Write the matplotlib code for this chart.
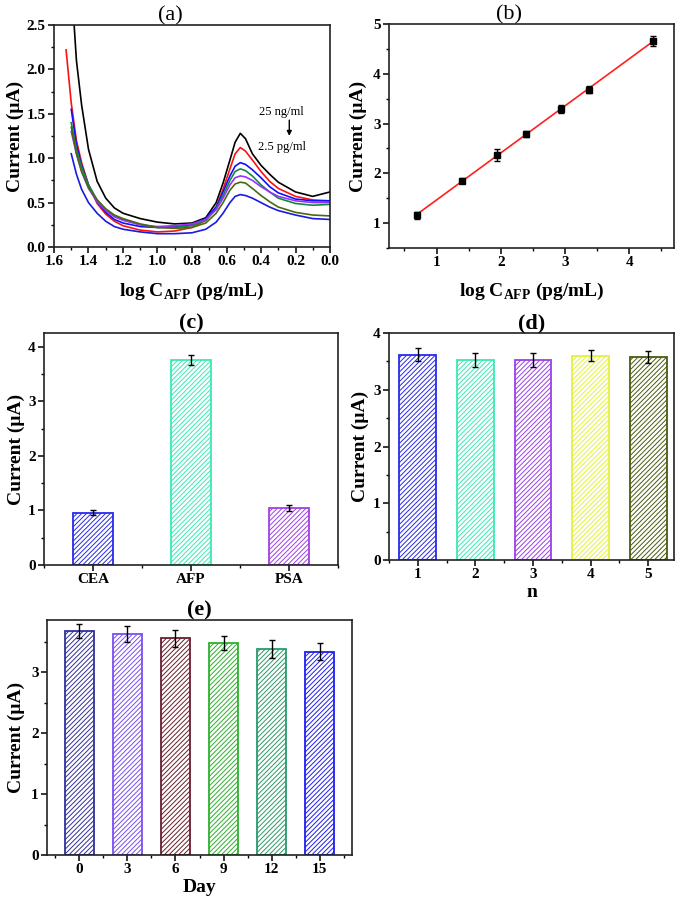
import numpy as np
import matplotlib.pyplot as plt
from matplotlib.ticker import MultipleLocator, FormatStrFormatter

plt.rcParams['font.family'] = ['Liberation Serif', 'DejaVu Serif']
plt.rcParams['font.weight'] = 'bold'
plt.rcParams['axes.labelweight'] = 'bold'
plt.rcParams['mathtext.fontset'] = 'custom'
plt.rcParams['mathtext.rm'] = 'Liberation Serif:bold'
plt.rcParams['mathtext.bf'] = 'Liberation Serif:bold'
plt.rcParams['hatch.linewidth'] = 0.7

# ---- data ----
# (a) DPV curves, x reversed (as drawn in the figure)
x_cv = [1.53, 1.50, 1.47, 1.44, 1.40, 1.35, 1.30, 1.25, 1.20, 1.10, 1.00, 0.90, 0.80, 0.72,
        0.66, 0.62, 0.58, 0.55, 0.52, 0.49, 0.45, 0.40, 0.35, 0.30, 0.20, 0.10, 0.00]
nan = np.nan
cv_black = [nan, 3.00, 2.10, 1.60, 1.10, 0.74, 0.55, 0.44, 0.38, 0.32, 0.28, 0.26, 0.27, 0.33,
            0.50, 0.72, 0.98, 1.18, 1.28, 1.22, 1.05, 0.92, 0.82, 0.73, 0.62, 0.57, 0.62]
cv_red = [2.22, 1.62, 1.20, 0.95, 0.70, 0.49, 0.37, 0.29, 0.24, 0.19, 0.17, 0.18, 0.22, 0.30,
          0.45, 0.65, 0.88, 1.05, 1.12, 1.08, 0.98, 0.85, 0.74, 0.66, 0.57, 0.53, 0.52]
cv_blue = [nan, 1.55, 1.15, 0.92, 0.70, 0.51, 0.39, 0.31, 0.27, 0.23, 0.22, 0.23, 0.25, 0.32,
           0.45, 0.62, 0.80, 0.91, 0.95, 0.93, 0.87, 0.78, 0.68, 0.61, 0.54, 0.52, 0.52]
cv_green = [nan, 1.40, 1.10, 0.90, 0.70, 0.53, 0.42, 0.35, 0.31, 0.25, 0.22, 0.22, 0.24, 0.30,
            0.43, 0.58, 0.75, 0.85, 0.88, 0.86, 0.80, 0.70, 0.62, 0.55, 0.49, 0.47, 0.48]
cv_purple = [nan, 1.30, 1.05, 0.85, 0.66, 0.51, 0.41, 0.34, 0.30, 0.25, 0.23, 0.24, 0.26, 0.31,
             0.42, 0.55, 0.70, 0.78, 0.80, 0.79, 0.75, 0.68, 0.62, 0.57, 0.52, 0.50, 0.50]
cv_olive = [nan, 1.35, 1.05, 0.85, 0.67, 0.53, 0.43, 0.36, 0.32, 0.26, 0.22, 0.21, 0.22, 0.27,
            0.38, 0.50, 0.64, 0.71, 0.73, 0.72, 0.66, 0.58, 0.51, 0.45, 0.39, 0.36, 0.35]
cv_blue2 = [nan, 1.05, 0.82, 0.65, 0.50, 0.38, 0.29, 0.23, 0.20, 0.17, 0.15, 0.15, 0.16, 0.20,
            0.28, 0.38, 0.50, 0.57, 0.59, 0.58, 0.55, 0.50, 0.45, 0.41, 0.36, 0.32, 0.31]
cv_all = [cv_black, cv_red, cv_blue, cv_green, cv_purple, cv_olive, cv_blue2]
cv_colors = ['black', '#ff1010', '#1010ff', '#108a40', '#9b30ff', '#4b6a10', '#1a1ae0']

# (b) calibration
logc = [0.70, 1.39, 1.94, 2.39, 2.94, 3.38, 4.37]
cur_b = [1.16, 1.85, 2.37, 2.79, 3.29, 3.68, 4.66]
err_b = [0.07, 0.05, 0.12, 0.06, 0.08, 0.07, 0.10]

# (c) selectivity
sel_labels = ['CEA', 'AFP', 'PSA']
sel_vals = [0.96, 3.75, 1.04]
sel_err = [0.05, 0.09, 0.05]
sel_colors = ['#2a2ae8', '#3ce8b4', '#a040e8']

# (d) reproducibility
rep_n = [1, 2, 3, 4, 5]
rep_vals = [3.62, 3.52, 3.52, 3.60, 3.58]
rep_err = [0.12, 0.12, 0.12, 0.10, 0.10]
rep_colors = ['#2a2ae8', '#3ce8b4', '#9a40e8', '#e4f040', '#4a5a12']

# (e) stability
days = [0, 3, 6, 9, 12, 15]
day_vals = [3.68, 3.63, 3.56, 3.48, 3.38, 3.34]
day_err = [0.12, 0.13, 0.14, 0.12, 0.15, 0.14]
day_colors = ['#30309a', '#7a50f0', '#6a1e2e', '#2eb02e', '#2a9a6a', '#1e1ef0']

W, H = 681, 902
fig = plt.figure(figsize=(W / 100, H / 100), dpi=100)


def place(l, r, t, b):
    return fig.add_axes([l / W, 1 - b / H, (r - l) / W, (b - t) / H])


def style(ax):
    for s in ax.spines.values():
        s.set_linewidth(1.2)
        s.set_color('#222222')
    ax.tick_params(which='major', direction='out', length=4, width=1.1, labelsize=11, pad=2)
    ax.tick_params(which='minor', direction='out', length=2.5, width=1)


ylab = 'Current (μA)'
xlab_c = r'log C$_{\mathbf{AFP}}$ (pg/mL)'

# (a)
ax = place(54, 330, 25, 247)
for ys, c in zip(cv_all, cv_colors):
    ax.plot(x_cv, ys, color=c, lw=1.2)
ax.set_xlim(1.6, 0.0)
ax.set_ylim(0, 2.5)
ax.xaxis.set_major_locator(MultipleLocator(0.2))
ax.xaxis.set_minor_locator(MultipleLocator(0.1))
ax.yaxis.set_major_locator(MultipleLocator(0.5))
ax.yaxis.set_minor_locator(MultipleLocator(0.25))
ax.xaxis.set_major_formatter(FormatStrFormatter('%.1f'))
ax.yaxis.set_major_formatter(FormatStrFormatter('%.1f'))
style(ax)
ax.set_ylabel(ylab, fontsize=14, labelpad=2)
ax.set_xlabel(xlab_c, fontsize=14, labelpad=9)
ax.text(0.28, 1.52, '25 ng/ml', fontsize=9, weight='normal', ha='center', va='center')
ax.text(0.28, 1.13, '2.5 pg/ml', fontsize=9, weight='normal', ha='center', va='center')
ax.annotate('', xy=(0.236, 1.22), xytext=(0.236, 1.46),
            arrowprops=dict(arrowstyle='-|>', color='black', lw=1, mutation_scale=7))
ax.text(0.42, 1.0, '(a)', transform=ax.transAxes, fontsize=16, weight='normal',
        ha='center', va='bottom')

# (b)
ax = place(389, 674, 24, 248)
k, b0 = np.polyfit(logc, cur_b, 1)
xf = np.array([logc[0], logc[-1]])
ax.plot(xf, k * xf + b0, color='#ff2020', lw=1.2)
ax.errorbar(logc, cur_b, yerr=err_b, fmt='s', color='black', ms=4, capsize=2, lw=1)
ax.set_xlim(0.26, 4.7)
ax.set_ylim(0.5, 5)
ax.xaxis.set_major_locator(MultipleLocator(1))
ax.xaxis.set_minor_locator(MultipleLocator(0.5))
ax.yaxis.set_major_locator(MultipleLocator(1))
ax.yaxis.set_minor_locator(MultipleLocator(0.5))
style(ax)
ax.set_ylabel(ylab, fontsize=14, labelpad=4)
ax.set_xlabel(xlab_c, fontsize=14, labelpad=8)
ax.text(0.42, 1.0, '(b)', transform=ax.transAxes, fontsize=16, weight='normal',
        ha='center', va='bottom')


def bars(ax, xs, vals, errs, cols, width):
    for x, v, e, c in zip(xs, vals, errs, cols):
        ax.bar(x, v, width=width, facecolor='white', edgecolor=c, hatch='///////', lw=1.3)
        ax.errorbar(x, v, yerr=e, fmt='none', ecolor='black', capsize=2.5, lw=1)


# (c)
ax = place(44, 338, 333, 565)
bars(ax, [1, 2, 3], sel_vals, sel_err, sel_colors, 0.41)
ax.set_xlim(0.5, 3.5)
ax.set_ylim(0, 4.25)
ax.set_xticks([1, 2, 3])
ax.set_xticklabels(sel_labels)
ax.xaxis.set_minor_locator(MultipleLocator(0.5))
ax.yaxis.set_major_locator(MultipleLocator(1))
ax.yaxis.set_minor_locator(MultipleLocator(0.5))
style(ax)
ax.set_ylabel(ylab, fontsize=14, labelpad=2)
ax.set_title('(c)', fontsize=16, weight='bold', pad=3)

# (d)
ax = place(389, 674, 333, 560)
bars(ax, rep_n, rep_vals, rep_err, rep_colors, 0.64)
ax.set_xlim(0.5, 5.45)
ax.set_ylim(0, 4)
ax.set_xticks(rep_n)
ax.xaxis.set_minor_locator(MultipleLocator(0.5))
ax.yaxis.set_major_locator(MultipleLocator(1))
ax.yaxis.set_minor_locator(MultipleLocator(0.5))
style(ax)
ax.set_ylabel(ylab, fontsize=14, labelpad=3)
ax.set_xlabel('n', fontsize=14, labelpad=2)
ax.set_title('(d)', fontsize=16, weight='bold', pad=3)

# (e)
ax = place(47, 352, 620, 855)
bars(ax, days, day_vals, day_err, day_colors, 1.8)
ax.set_xlim(-2, 17)
ax.set_ylim(0, 3.86)
ax.set_xticks(days)
ax.xaxis.set_minor_locator(MultipleLocator(1.5))
ax.yaxis.set_major_locator(MultipleLocator(1))
ax.yaxis.set_minor_locator(MultipleLocator(0.5))
style(ax)
ax.set_ylabel(ylab, fontsize=14, labelpad=4)
ax.set_xlabel('Day', fontsize=14, labelpad=2)
ax.set_title('(e)', fontsize=16, weight='bold', pad=1)

fig.savefig('out.png', dpi=100)
